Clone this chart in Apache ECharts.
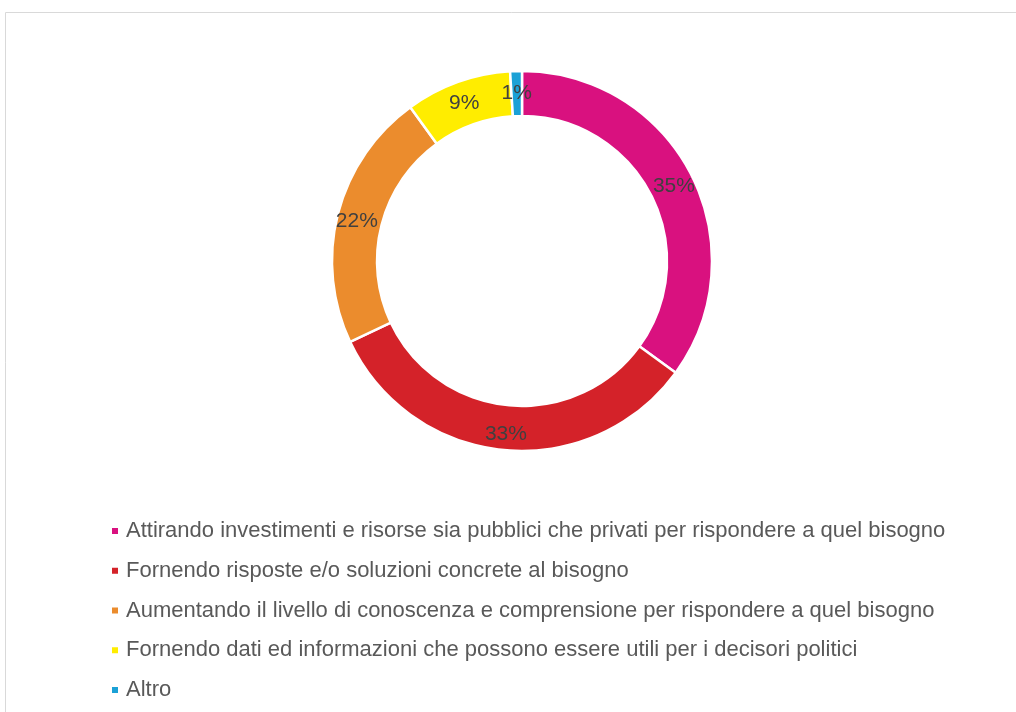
<!DOCTYPE html>
<html>
<head>
<meta charset="utf-8">
<script src="https://cdn.jsdelivr.net/npm/echarts@6/dist/echarts.min.js"></script>
<style>
  html, body { margin: 0; padding: 0; background: #fff; overflow: hidden; }
  #main { width: 1016px; height: 712px; }
</style>
</head>
<body>
<div id="main"></div>
<script>
var categories = [
    'Attirando investimenti e risorse sia pubblici che privati per rispondere a quel bisogno',
    'Fornendo risposte e/o soluzioni concrete al bisogno',
    'Aumentando il livello di conoscenza e comprensione per rispondere a quel bisogno',
    'Fornendo dati ed informazioni che possono essere utili per i decisori politici',
    'Altro'
];
var values = [35, 33, 22, 9, 1];
var colors = ['#d9117f', '#d42229', '#eb8c2d', '#ffed00', '#1ba1d6'];

var data = categories.map(function (name, i) {
    return { name: name, value: values[i] };
});

var option = {
    animation: false,
    color: colors,
    graphic: {
        elements: [{
            type: 'rect',
            silent: true,
            shape: { x: 5.5, y: 12.5, width: 1200, height: 900 },
            style: { fill: 'none', stroke: '#d9d9d9', lineWidth: 1 }
        }]
    },
    legend: {
        orient: 'vertical',
        left: 105,
        top: 515,
        icon: 'rect',
        itemWidth: 8,
        itemHeight: 8,
        itemGap: 17.75,
        textStyle: {
            fontFamily: 'Liberation Sans, Arial, sans-serif',
            fontSize: 22,
            lineHeight: 22,
            color: '#595959',
            padding: [0, 0, 0, 2]
        }
    },
    series: [{
        type: 'pie',
        center: [522, 261],
        radius: [145, 190],
        startAngle: 90,
        clockwise: true,
        avoidLabelOverlap: false,
        itemStyle: {
            borderColor: '#fff',
            borderWidth: 2.5
        },
        label: {
            show: true,
            position: 'inside',
            formatter: '{c}%',
            fontFamily: 'Liberation Sans, Arial, sans-serif',
            fontSize: 21,
            color: '#404040',
            offset: [0, 3]
        },
        labelLine: { show: false },
        data: data
    }]
};

echarts.init(document.getElementById('main')).setOption(option);
</script>
</body>
</html>
